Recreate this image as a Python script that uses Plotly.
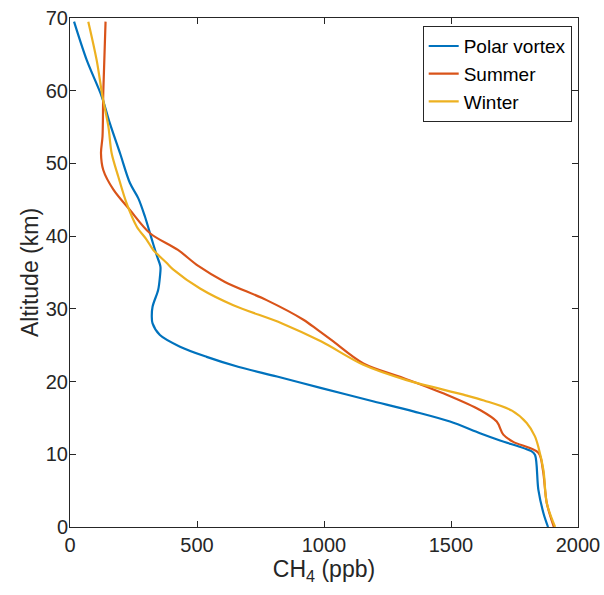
"""Methane altitude profiles: polar vortex vs. summer and winter."""

import plotly.graph_objects as go

# altitude (km) and CH4 (ppb)
vortex_alt = [69.5, 64.2, 59.2, 55.5, 51.4, 47.3, 45.2, 42.7, 39.8, 37.4, 35.8, 34.4,
              32.6, 30.3, 29.0, 28.0, 26.4, 24.8, 23.4, 22.0, 20.7, 19.1, 17.4, 15.9,
              14.5, 12.9, 11.9, 10.4, 9.9, 5.1, 1.9, 0.0]
vortex_ch4 = [16, 66, 125, 157, 197, 236, 269, 295, 320, 341, 356, 354,
              347, 325, 322, 325, 354, 433, 538, 665, 815, 990, 1181, 1352,
              1496, 1614, 1693, 1818, 1831, 1844, 1864, 1882]

summer_alt = [69.5, 59.7, 53.7, 51.4, 49.1, 46.4, 43.6, 40.4, 38.1, 35.9, 33.7, 31.2,
              28.5, 27.1, 25.7, 22.5, 20.5, 18.2, 16.1, 14.5, 12.7, 11.7, 10.2,
              7.8, 3.3, 0.0]
summer_ch4 = [140, 131, 128, 122, 131, 171, 236, 315, 425, 505, 610, 774,
              919, 975, 1030, 1155, 1312, 1483, 1614, 1680, 1706, 1745, 1844,
              1862, 1877, 1905]

winter_alt = [69.5, 64.2, 59.2, 55.1, 51.4, 48.2, 44.5, 41.3, 39.5, 38.1, 36.3, 35.4,
              32.8, 30.5, 28.0, 25.5, 22.3, 20.2, 18.2, 17.4, 16.0, 14.3, 12.5, 11.0,
              7.8, 3.3, 0.0]
winter_ch4 = [72, 105, 128, 151, 164, 190, 223, 263, 302, 328, 381, 407,
              512, 643, 835, 990, 1155, 1325, 1549, 1630, 1740, 1798, 1830, 1844,
              1864, 1877, 1910]

x_ticks = [0, 500, 1000, 1500, 2000]
y_ticks = [0, 10, 20, 30, 40, 50, 60, 70]

AXIS_COLOR = "#262626"
FONT = "Liberation Sans, Arial, Helvetica, sans-serif"

series = [
    ("Polar vortex", vortex_ch4, vortex_alt, "#0072BD"),
    ("Summer", summer_ch4, summer_alt, "#D95319"),
    ("Winter", winter_ch4, winter_alt, "#EDB120"),
]

fig = go.Figure()
for name, ch4, alt, color in series:
    fig.add_trace(
        go.Scatter(
            x=ch4,
            y=alt,
            mode="lines",
            name=name,
            line={"color": color, "width": 2.2, "shape": "spline", "smoothing": 0.9},
        )
    )

axis_common = {
    "showgrid": False,
    "zeroline": False,
    "showline": True,
    "linecolor": AXIS_COLOR,
    "linewidth": 1,
    "mirror": "ticks",
    "ticks": "inside",
    "ticklen": 6,
    "tickcolor": AXIS_COLOR,
    "automargin": False,
    "ticklabeloverflow": "allow",
    "tickfont": {"size": 20, "color": AXIS_COLOR, "family": FONT},
}

fig.update_layout(
    width=604,
    height=595,
    margin={"l": 70, "r": 26, "t": 18, "b": 68},
    plot_bgcolor="white",
    paper_bgcolor="white",
    font={"family": FONT, "color": AXIS_COLOR},
    xaxis={
        **axis_common,
        "range": [0, 2000],
        "tickvals": x_ticks,
        "title": {"text": "CH<sub>4</sub> (ppb)", "font": {"size": 23}, "standoff": 4},
    },
    yaxis={
        **axis_common,
        "range": [0, 70],
        "tickvals": y_ticks,
        "ticklabelstandoff": -3,
        "title": {"text": "Altitude (km)", "font": {"size": 23}, "standoff": 0},
    },
    legend={
        "x": 0.9876,
        "y": 0.984,
        "xanchor": "right",
        "yanchor": "top",
        "bgcolor": "white",
        "bordercolor": AXIS_COLOR,
        "borderwidth": 1,
        "font": {"size": 19, "color": "black", "family": FONT},
        "tracegroupgap": 0,
    },
)

# drop the default page margin so the figure sits at the window origin
fig.write_html(
    "out.html",
    config={"displayModeBar": False},
    post_script="document.body.style.margin = '0';",
)
